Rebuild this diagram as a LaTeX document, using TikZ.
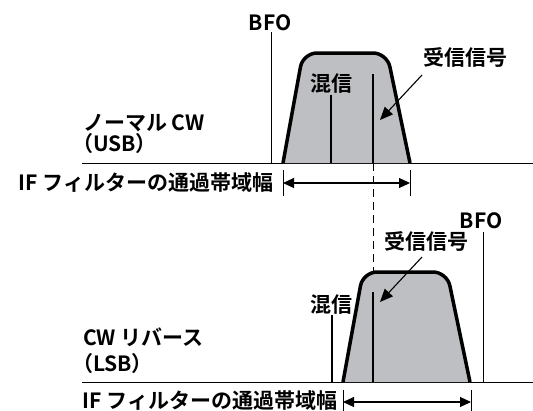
\documentclass[tikz,border=0pt]{standalone}
\usepackage{fontspec}
\setmainfont{Noto Sans CJK JP}[BoldFont={* Bold}]
\usetikzlibrary{arrows.meta}
\definecolor{fillgray}{RGB}{190,191,194}
\begin{document}
\begin{tikzpicture}[x=1pt,y=-1pt,
  lbl/.style={font=\bfseries\fontsize{21}{24}\selectfont, inner sep=0pt, outer sep=0pt},
  hair/.style={line width=1pt},
  outline/.style={fill=fillgray, draw=black, line width=3.5pt, rounded corners=14pt},
  sigline/.style={line width=2.5pt},
  pointer/.style={line width=1.1pt, -{Triangle[length=13pt,width=11pt]}},
  dimarrow/.style={line width=1.1pt, {Triangle[length=11pt,width=10pt]}-{Triangle[length=11pt,width=10pt]}},
  dashline/.style={line width=1pt, dash pattern=on 8pt off 5pt}]
\useasboundingbox (0,0) rectangle (533,410);

% ---------- upper panel (normal CW / USB) ----------
\coordinate (baseAl) at (82,163);
\coordinate (baseAr) at (533,163);
\draw[hair] (baseAl) -- (baseAr);

\node[lbl, anchor=base] (bfoA) at (270,30) {BFO};
\coordinate (bfoAt) at (271,32);
\coordinate (bfoAb) at (271,163);
\draw[hair] (bfoAt) -- (bfoAb);

\filldraw[outline] (283,163) -- (303,53) -- (387,53) -- (410,163);

\coordinate (intAt) at (331,95);
\coordinate (intAb) at (331,163);
\draw[line width=1.2pt] (intAt) -- (intAb);
\coordinate (sigAt) at (373,74);
\coordinate (sigAb) at (373,163);
\draw[sigline] (sigAt) -- (sigAb);

\node[lbl, anchor=base] (konA) at (331,91) {混信};
\node[lbl, anchor=base] (jusA) at (465,65) {受信信号};
\coordinate (ptrAs) at (422,75);
\coordinate (ptrAe) at (380,120);
\draw[pointer] (ptrAs) -- (ptrAe);

\node[lbl, anchor=base west] (modeA) at (83,130) {ノーマル CW};
\node[lbl, anchor=base west] (sbA) at (72,151) {（USB）};

\node[lbl, anchor=base east] (ifA) at (273,190) {IF フィルターの通過帯域幅};
\coordinate (tkAlt) at (283,170); \coordinate (tkAlb) at (283,196);
\coordinate (tkArt) at (410,170); \coordinate (tkArb) at (410,196);
\draw[hair] (tkAlt) -- (tkAlb);
\draw[hair] (tkArt) -- (tkArb);
\coordinate (dmAl) at (283,183); \coordinate (dmAr) at (410,183);
\draw[dimarrow] (dmAl) -- (dmAr);

% ---------- dashed link ----------
\coordinate (dashT) at (373,163);
\coordinate (dashB) at (373,292);
\draw[dashline] (dashT) -- (dashB);

% ---------- lower panel (CW reverse / LSB) ----------
\coordinate (baseBl) at (82,382);
\coordinate (baseBr) at (533,382);
\draw[hair] (baseBl) -- (baseBr);

\node[lbl, anchor=base] (bfoB) at (481,228) {BFO};
\coordinate (bfoBt) at (483,232);
\coordinate (bfoBb) at (483,382);
\draw[hair] (bfoBt) -- (bfoBb);

\filldraw[outline] (343,382) -- (363,272) -- (447,272) -- (470,382);

\coordinate (intBt) at (332,315);
\coordinate (intBb) at (332,382);
\draw[line width=1.2pt] (intBt) -- (intBb);
\coordinate (sigBt) at (373,292);
\coordinate (sigBb) at (373,382);
\draw[sigline] (sigBt) -- (sigBb);

\node[lbl, anchor=base] (konB) at (331,312) {混信};
\node[lbl, anchor=base] (jusB) at (426,249) {受信信号};
\coordinate (ptrBs) at (422,257);
\coordinate (ptrBe) at (380,302);
\draw[pointer] (ptrBs) -- (ptrBe);

\node[lbl, anchor=base west] (modeB) at (83,345) {CW リバース};
\node[lbl, anchor=base west] (sbB) at (72,371) {（LSB）};

\node[lbl, anchor=base east] (ifB) at (337,408) {IF フィルターの通過帯域幅};
\coordinate (tkBlt) at (343,390); \coordinate (tkBlb) at (343,412);
\coordinate (tkBrt) at (471,390); \coordinate (tkBrb) at (471,412);
\draw[hair] (tkBlt) -- (tkBlb);
\draw[hair] (tkBrt) -- (tkBrb);
\coordinate (dmBl) at (343,402); \coordinate (dmBr) at (471,402);
\draw[dimarrow] (dmBl) -- (dmBr);
\end{tikzpicture}
\end{document}
